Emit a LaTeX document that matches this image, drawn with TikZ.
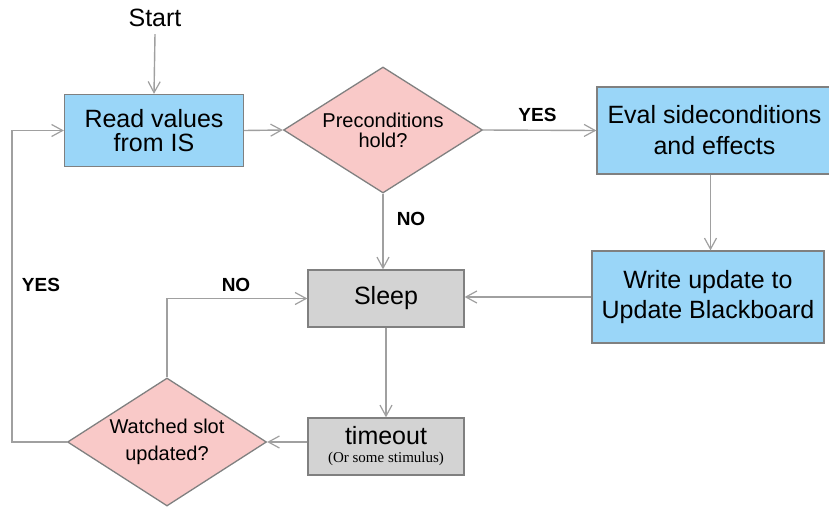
\documentclass[tikz,border=0pt]{standalone}
\usepackage{fontspec}
\setmainfont{Liberation Sans}
\newfontfamily\serifsmall{Liberation Serif}
\usetikzlibrary{shapes.geometric,arrows.meta}
\definecolor{boxblue}{RGB}{154,214,248}
\definecolor{boxpink}{RGB}{249,201,200}
\definecolor{boxgray}{RGB}{211,211,211}
\definecolor{edgegray}{RGB}{128,128,128}
\definecolor{linegray}{RGB}{160,160,160}
\tikzset{
  procbox/.style={draw=edgegray, line width=1.3pt, rectangle, inner sep=0pt, align=center,
    font=\fontsize{25}{30}\selectfont},
  bluebox/.style={procbox, fill=boxblue},
  graybox/.style={procbox, fill=boxgray},
  decision/.style={draw=edgegray, line width=1.3pt, diamond, fill=boxpink, inner sep=0pt,
    aspect=1.58, align=center},
  arr/.style={draw=linegray, line width=1.4pt, -{Straight Barb[length=11pt,width=12pt,line width=1.2pt]}},
  lbl/.style={font=\bfseries\fontsize{19}{19}\selectfont, inner sep=0pt}
}
\begin{document}
\begin{tikzpicture}[x=1pt,y=-1pt]
\clip (0,0) rectangle (829,506);
\useasboundingbox (0,0) rectangle (829,506);
\fill[white] (0,0) rectangle (829,506);

\node[font=\fontsize{25}{25}\selectfont, inner sep=2pt] (start) at (155,18) {Start};
\node[bluebox, minimum width=179pt, minimum height=72pt, font=\fontsize{25}{24}\selectfont] (read) at (154,130.5) {Read values\\from IS};
\node[decision, minimum width=199pt, minimum height=126pt, font=\fontsize{20}{20}\selectfont] (pre) at (383,130) {Preconditions\\hold?};
\node[bluebox, minimum width=235pt, minimum height=87pt, font=\fontsize{25}{31}\selectfont] (eval) at (714.5,130.5) {Eval sideconditions\\and effects};
\node[bluebox, minimum width=232pt, minimum height=92pt] (write) at (708,297) {Write update to\\Update Blackboard};
\node[graybox, minimum width=156pt, minimum height=57pt] (sleep) at (386,298.5) {Sleep};
\node[graybox, minimum width=156pt, minimum height=57pt, font=\fontsize{25}{20}\selectfont] (timeout) at (386,446.5) {timeout\\[-2pt]{\serifsmall\fontsize{15}{15}\selectfont (Or some stimulus)}};
\node[decision, minimum width=199pt, minimum height=128pt, font=\fontsize{20}{27}\selectfont] (watched) at (167,442) {Watched slot\\updated?};

\coordinate (yesc) at (12,300);

\draw[arr] (start.south) ++(0,5) -- (read.north);
\draw[arr] (read.east) -- (pre.west);
\draw[arr] (pre.east) -- node[lbl, above=8pt, pos=0.48] (yes1) {YES} (eval.west);
\draw[arr] ([xshift=-4pt]eval.south) -- ([xshift=-4pt]eval.south |- write.north);
\draw[arr] (write.west) -- (write.west -| sleep.east);
\draw[arr] (pre.south) -- (pre.south |- sleep.north);
\draw[arr] (sleep.south) -- (timeout.north);
\draw[arr] (watched.east -| timeout.west) -- (watched.east);
\draw[arr] (watched.north) |- (sleep.west);
\draw[arr] (watched.west) -| (yesc) |- (read.west);

\node[lbl] (no1) at (411,219) {NO};
\node[lbl] (no2) at (236,285) {NO};
\node[lbl] (yes2) at (41,285) {YES};
\end{tikzpicture}
\end{document}
